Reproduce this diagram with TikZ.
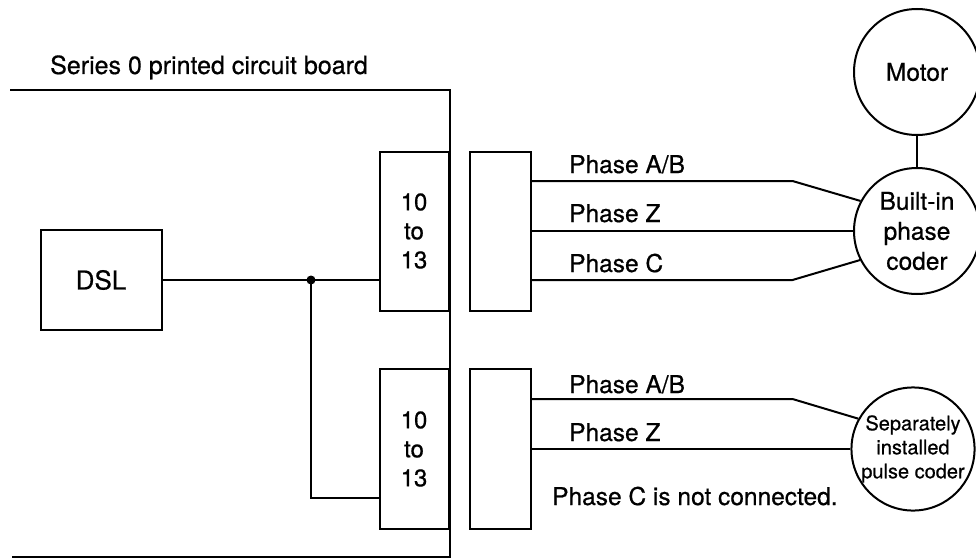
\documentclass[tikz,border=0pt]{standalone}
\usepackage{fontspec}
\setmainfont{TeX Gyre Heros}[FakeBold=0.6]
\usetikzlibrary{positioning, calc}

\tikzset{
  wire/.style={line width=2pt},
  box/.style={draw, line width=2pt, rectangle, align=center, inner sep=0pt},
  disc/.style={draw, line width=2pt, circle, align=center, inner sep=0pt},
  txt/.style={inner sep=0pt, font=\fontsize{24.5}{30}\selectfont},
}

\begin{document}
\begin{tikzpicture}[x=1pt, y=-1pt]
    \useasboundingbox (0,0) rectangle (976,559);

    % Board outline
    \draw[wire] (10,90) -- (450,90) -- (450,557) -- (12,557);
    \node[txt, anchor=base west, font=\fontsize{25}{30}\selectfont] (board) at (50,74) {Series 0 printed circuit board};

    % DSL and connectors on the board
    \node[box, minimum width=121pt, minimum height=100pt, font=\fontsize{26}{30}\selectfont] (dsl) at (101,280) {DSL};
    \node[box, minimum width=69pt, minimum height=159pt, font=\fontsize{24}{29}\selectfont] (conA) at (414,231) {10\\to\\13};
    \node[box, minimum width=69pt, minimum height=160pt, font=\fontsize{24}{29}\selectfont] (conB) at (414,449) {10\\to\\13};

    % Cable-side connectors
    \node[box, minimum width=61pt, minimum height=159pt] (plugA) at (500,231) {};
    \node[box, minimum width=61pt, minimum height=160pt] (plugB) at (500,449) {};

    % Motor and coders
    \node[disc, minimum size=126pt, font=\fontsize{24.5}{30}\selectfont] (motor) at (917,72) {Motor};
    \node[disc, minimum size=126pt, font=\fontsize{24.5}{30}\selectfont] (coder) at (917,231) {Built-in\\phase\\coder};
    \node[disc, minimum size=122pt, font=\fontsize{20}{24}\selectfont] (pulse) at (913,449) {Separately\\installed\\pulse coder};
    \draw[wire] (motor) -- (coder);

    % DSL to both connectors
    \coordinate (tap) at (311,280);
    \draw[wire] (dsl.east) -- (dsl.east -| conA.west);
    \draw[wire] (tap) |- ([yshift=-49pt]conB.west);
    \fill (tap) circle (4.5pt);

    % Built-in coder signals
    \draw[wire] ([yshift=50pt]plugA.east) -- +(261pt,0) -- (coder.152);
    \draw[wire] (plugA.east) -- (coder.west);
    \draw[wire] ([yshift=-49pt]plugA.east) -- +(261pt,0) -- (coder.207);
    \node[txt, anchor=base west] (abA) at (569,173) {Phase A/B};
    \node[txt, anchor=base west] (zA) at (569,222) {Phase Z};
    \node[txt, anchor=base west] (cA) at (569,272) {Phase C};

    % Separate coder signals
    \draw[wire] ([yshift=50pt]plugB.east) -- +(261pt,0) -- (pulse.151);
    \draw[wire] (plugB.east) -- (pulse.west);
    \node[txt, anchor=base west] (abB) at (569,393) {Phase A/B};
    \node[txt, anchor=base west] (zB) at (569,441) {Phase Z};
    \node[txt, anchor=base west] (cB) at (552,505) {Phase C is not connected.};
\end{tikzpicture}
\end{document}
